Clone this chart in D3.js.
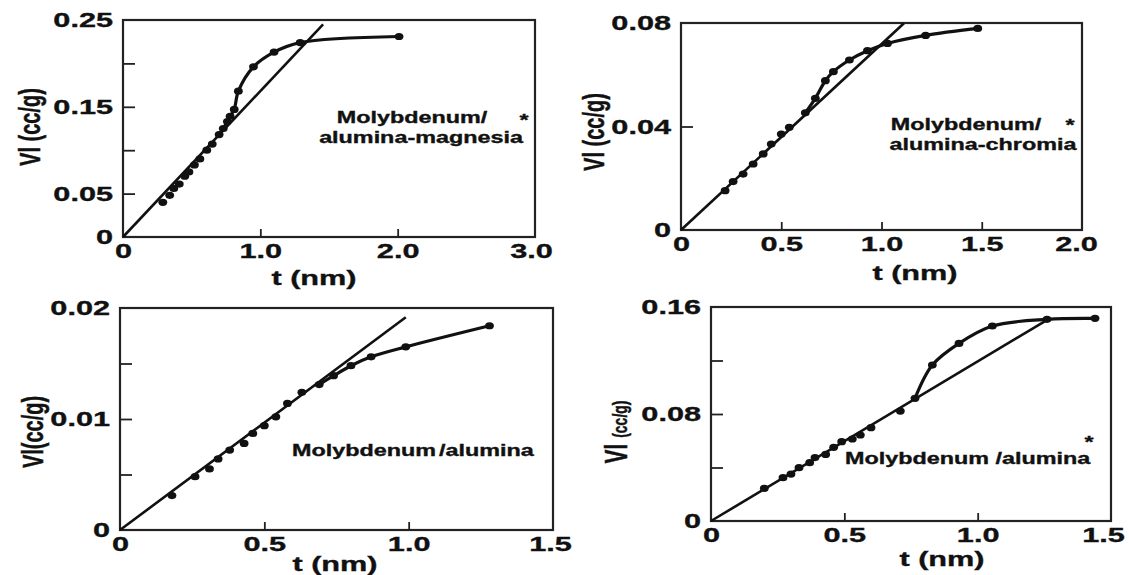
<!DOCTYPE html>
<html>
<head>
<meta charset="utf-8">
<script src="https://cdn.jsdelivr.net/npm/d3@7"></script>
<style>
  body { margin: 0; background: #fff; }
  text { font-family: "Liberation Sans", Arial, sans-serif; font-weight: bold; fill: #111; stroke: #111; stroke-width: 0.35; }
</style>
</head>
<body>
<script>

var width = 1129,
    height = 575;

// t (nm) , Vl (cc/g)
var p1Points = [[0.29,0.040],[0.34,0.048],[0.37,0.056],[0.41,0.061],[0.45,0.070],[0.48,0.075],
  [0.52,0.083],[0.56,0.090],[0.61,0.100],[0.65,0.107],[0.70,0.118],[0.73,0.125],[0.76,0.133],
  [0.78,0.139],[0.81,0.147],[0.84,0.168],[0.95,0.196],[1.10,0.213],[1.29,0.224],[2.01,0.231]];
var p2Points = [[0.22,0.0152],[0.26,0.0187],[0.31,0.0216],[0.36,0.0255],[0.41,0.0294],[0.45,0.0332],
  [0.50,0.0371],[0.54,0.0397],[0.62,0.0453],[0.67,0.0509],[0.72,0.0577],[0.76,0.0612],[0.84,0.0657],
  [0.93,0.0693],[1.03,0.0721],[1.22,0.0752],[1.48,0.0779]];
var p3Points = [[0.18,0.0031],[0.26,0.0048],[0.31,0.0055],[0.34,0.0064],[0.38,0.0072],[0.43,0.0078],
  [0.46,0.0087],[0.50,0.0094],[0.54,0.0102],[0.58,0.0114],[0.63,0.0124],[0.69,0.0131],[0.74,0.0139],
  [0.80,0.0148],[0.87,0.0156],[0.99,0.0165],[1.28,0.0184]];
var p4Points = [[0.20,0.0244],[0.27,0.0324],[0.30,0.0351],[0.33,0.0399],[0.37,0.0436],[0.39,0.0474],
  [0.43,0.0498],[0.46,0.0551],[0.49,0.0593],[0.53,0.0613],[0.56,0.0643],[0.60,0.0698],[0.71,0.0822],
  [0.765,0.0917],[0.83,0.1166],[0.93,0.1328],[1.055,0.1458],[1.26,0.1508],[1.44,0.1515]];

// where the smooth curve leaves the straight t-plot line
var p1Branch = 0.70, p2Branch = 0.62, p3Branch = 0.69, p4Branch = 0.765;

// far end of the straight line (it starts at the origin)
var p1LineEnd = [1.457, 0.245];
var p2LineEnd = [1.112, 0.0799];
var p3LineEnd = [0.99, 0.01916];
var p4LineEnd = [1.264, 0.1508];

var p1XLabels = [0, 1, 2, 3],         p1YLabels = [0, 0.05, 0.15, 0.25];
var p2XLabels = [0, 0.5, 1, 1.5, 2],  p2YLabels = [0, 0.04, 0.08];
var p3XLabels = [0, 0.5, 1, 1.5],     p3YLabels = [0, 0.01, 0.02];
var p4XLabels = [0, 0.5, 1, 1.5],     p4YLabels = [0, 0.08, 0.16];

var p1XTicks = [1, 2],          p1YTicks = [0.05, 0.1, 0.15, 0.2];
var p2XTicks = [0.5, 1, 1.5],   p2YTicks = [0.04];
var p3XTicks = [0.5, 1],        p3YTicks = [0.005, 0.01, 0.015];
var p4XTicks = [0.5, 1],        p4YTicks = [0.04, 0.08, 0.12];

var SX = 1.46;  // the scan is stretched sideways, so is the lettering

var svg = d3.select("body").append("svg")
    .attr("width", width)
    .attr("height", height);

svg.append("rect").attr("width", width).attr("height", height).attr("fill", "#fff");

function label(g, s, x, y, size, anchor) {
  return g.append("text")
    .attr("transform", "translate(" + x + "," + y + ") scale(" + SX + ",1)")
    .attr("text-anchor", anchor || "middle")
    .attr("dy", "0.36em")
    .attr("font-size", size)
    .text(s);
}

function star(g, x, y) {
  g.append("text")
    .attr("transform", "translate(" + x + "," + y + ") scale(" + SX + ",1)")
    .attr("text-anchor", "middle")
    .attr("dy", "0.6em")
    .attr("font-size", 16)
    .text("*");
}

var fmt1 = function(d) { return d === 0 ? "0" : d3.format(".1f")(d); };
var fmt2 = function(d) { return d === 0 ? "0" : d3.format(".2f")(d); };

var panels = [
  { pts: p1Points, branch: p1Branch, end: p1LineEnd, xMax: 3, yMax: 0.25,
    xLabels: p1XLabels, yLabels: p1YLabels, xTicks: p1XTicks, yTicks: p1YTicks,
    box: [123, 20, 535, 237], xTitle: [314, 277], yTitle: [29, 127], yText: "Vl (cc/g)", lastShift: -4,
    notes: function(g) {
      label(g, "Molybdenum/", 412, 117, 16);
      label(g, "alumina-magnesia", 421, 137, 16);
      star(g, 524, 116);
    } },
  { pts: p2Points, branch: p2Branch, end: p2LineEnd, xMax: 2, yMax: 0.08,
    xLabels: p2XLabels, yLabels: p2YLabels, xTicks: p2XTicks, yTicks: p2YTicks,
    box: [681, 23, 1082, 230], xTitle: [915, 272], yTitle: [593, 132], yText: "Vl (cc/g)", lastShift: -6,
    notes: function(g) {
      label(g, "Molybdenum/", 966, 124, 16);
      label(g, "alumina-chromia", 983, 144, 16);
      star(g, 1070, 121);
    } },
  { pts: p3Points, branch: p3Branch, end: p3LineEnd, xMax: 1.5, yMax: 0.02,
    xLabels: p3XLabels, yLabels: p3YLabels, xTicks: p3XTicks, yTicks: p3YTicks,
    box: [120, 308, 553, 530], xTitle: [335, 563], yTitle: [32, 432], yText: "Vl(cc/g)", lastShift: -3,
    notes: function(g) {
      var t = label(g, "Molybdenum", 292, 450, 16, "start");
      t.append("tspan").attr("dx", 2).text("/alumina");
    } },
  { pts: p4Points, branch: p4Branch, end: p4LineEnd, xMax: 1.5, yMax: 0.16,
    xLabels: p4XLabels, yLabels: p4YLabels, xTicks: p4XTicks, yTicks: p4YTicks,
    box: [711, 307, 1111, 521], xTitle: [942, 558], yTitle: [619, 432], yText: null, lastShift: -8,
    notes: function(g) {
      label(g, "Molybdenum /alumina", 845, 458, 16, "start");
      star(g, 1089, 438);
    } }
];

panels.forEach(function(p) {
  var b = p.box;
  var x = d3.scaleLinear().domain([0, p.xMax]).range([b[0], b[2]]);
  var y = d3.scaleLinear().domain([0, p.yMax]).range([b[3], b[1]]);
  var g = svg.append("g");

  // frame
  g.append("rect")
    .attr("x", b[0]).attr("y", b[1])
    .attr("width", b[2] - b[0]).attr("height", b[3] - b[1])
    .attr("fill", "none").attr("stroke", "#222").attr("stroke-width", 2.2);

  // inward tick marks
  var xt = g.append("g").attr("transform", "translate(0," + b[3] + ")")
    .call(d3.axisBottom(x).tickValues(p.xTicks).tickSize(-8).tickFormat(""));
  var yt = g.append("g").attr("transform", "translate(" + b[0] + ",0)")
    .call(d3.axisLeft(y).tickValues(p.yTicks).tickSize(-12).tickFormat(""));
  [xt, yt].forEach(function(a) {
    a.select(".domain").remove();
    a.selectAll("line").attr("stroke", "#222").attr("stroke-width", 1.8);
  });

  // tick labels
  var xl = g.append("g").attr("transform", "translate(0," + b[3] + ")")
    .call(d3.axisBottom(x).tickValues(p.xLabels).tickSize(0).tickPadding(6).tickFormat(fmt1));
  var yl = g.append("g").attr("transform", "translate(" + b[0] + ",0)")
    .call(d3.axisLeft(y).tickValues(p.yLabels).tickSize(0).tickPadding(10 / SX).tickFormat(fmt2));
  [xl, yl].forEach(function(a) {
    a.select(".domain").remove();
    a.attr("font-family", null).attr("font-size", null);
    a.selectAll("text").attr("font-size", 21).attr("fill", "#111")
      .attr("transform", "scale(" + SX + ",1)");
  });
  var last = p.xLabels[p.xLabels.length - 1];
  xl.selectAll("text").filter(function(d) { return d === last; })
    .attr("x", p.lastShift / SX);

  // axis titles
  label(g, "t (nm)", p.xTitle[0], p.xTitle[1], 21);
  var yt2 = g.append("text")
    .attr("transform", "translate(" + p.yTitle[0] + "," + p.yTitle[1] + ") rotate(-90) scale(1," + SX + ")")
    .attr("text-anchor", "middle")
    .attr("dy", "0.36em");
  if (p.yText) {
    yt2.attr("font-size", 20).text(p.yText);
  } else {
    yt2.append("tspan").attr("font-size", 21).text("Vl ");
    yt2.append("tspan").attr("font-size", 14).text("(cc/g)");
  }

  p.notes(g);

  // straight t-plot line through the origin
  g.append("path")
    .datum([[0, 0], p.end])
    .attr("fill", "none").attr("stroke", "#111").attr("stroke-width", 2.6)
    .attr("d", d3.line().x(function(d) { return x(d[0]); }).y(function(d) { return y(d[1]); }));

  // smooth curve through the upper points
  var upper = p.pts.filter(function(d) { return d[0] >= p.branch; });
  g.append("path")
    .datum(upper)
    .attr("fill", "none").attr("stroke", "#111").attr("stroke-width", 3.2)
    .attr("stroke-linecap", "round")
    .attr("d", d3.line().curve(d3.curveCatmullRom.alpha(0.5))
      .x(function(d) { return x(d[0]); }).y(function(d) { return y(d[1]); }));

  // data points
  g.selectAll(".pt").data(p.pts).enter().append("ellipse")
    .attr("class", "pt")
    .attr("cx", function(d) { return x(d[0]); })
    .attr("cy", function(d) { return y(d[1]); })
    .attr("rx", 4.4).attr("ry", 3.6)
    .attr("fill", "#111");
});

</script>
</body>
</html>
